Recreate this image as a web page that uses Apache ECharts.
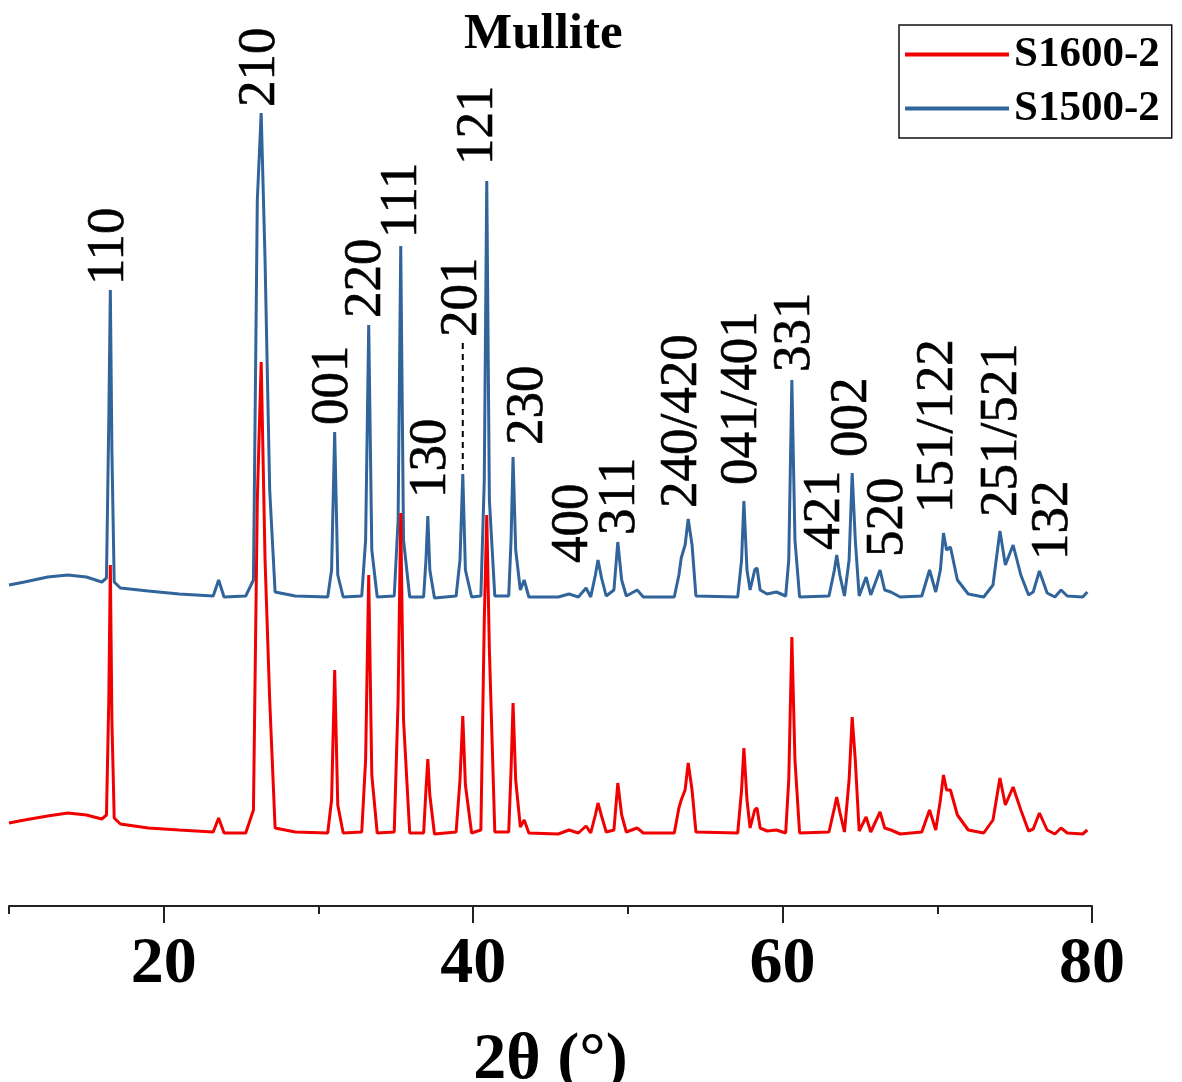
<!DOCTYPE html>
<html>
<head>
<meta charset="utf-8">
<title>Mullite XRD</title>
<script src="https://cdn.jsdelivr.net/npm/echarts@6/dist/echarts.min.js"></script>
<style>
  html, body { margin: 0; padding: 0; background: #fff; }
  #chart { width: 1182px; height: 1082px; }
</style>
</head>
<body>
<div id="chart"></div>
<script>
// 2theta (deg), shared by both patterns
var twoTheta = [
  10.0, 11.0, 12.5, 13.8, 15.0, 16.0, 16.3, 16.45, 16.55, 16.65, 16.8, 17.2, 19.0, 21.0, 23.2, 23.55, 23.9,
  25.3, 25.8, 26.05, 26.3, 26.55, 26.85, 27.2, 28.5,
  30.6, 30.85, 31.05, 31.25, 31.6,
  32.8, 33.05, 33.25, 33.45, 33.8,
  34.9, 35.15, 35.32, 35.5, 35.9,
  36.8, 36.95, 37.07, 37.2, 37.5,
  38.9, 39.15, 39.33, 39.5, 39.9,
  40.5, 40.72, 40.88, 41.05, 41.4,
  42.3, 42.45, 42.58, 42.75, 43.05, 43.3, 43.6,
  45.5, 46.2, 46.8, 47.3, 47.6, 47.9, 48.07, 48.3, 48.6,
  49.1, 49.35, 49.6, 49.9, 50.6, 51.0,
  53.0, 53.3, 53.45, 53.7, 53.9, 54.15, 54.4,
  57.1, 57.35, 57.5, 57.7, 57.9, 58.2, 58.35, 58.55, 59.0, 59.6,
  60.2, 60.4, 60.6, 60.8, 61.1,
  63.0, 63.35, 63.5, 63.7, 64.0, 64.3, 64.5, 64.7, 64.95, 65.4, 65.7, 66.3, 66.6, 67.0, 67.6,
  69.0, 69.5, 69.9, 70.2, 70.4, 70.6, 70.85, 71.3, 72.0,
  73.0, 73.6, 74.05, 74.4, 74.9, 75.4, 75.9, 76.2, 76.6, 77.1, 77.6, 78.0, 78.4, 79.4, 79.7
];

// S1500-2 intensity (a.u., already stacked above the other pattern)
var s1500 = [
  321, 324, 329, 331, 329, 324, 328, 486, 616, 456, 324, 318, 315, 312, 310, 326, 309,
  310, 326, 706, 793, 646, 416, 314, 310,
  309, 336, 474, 331, 309,
  310, 366, 581, 356, 309,
  310, 386, 660, 366, 309,
  309, 346, 390, 336, 308,
  310, 346, 432, 336, 309,
  310, 426, 725, 406, 310,
  310, 366, 449, 356, 316, 326, 309,
  309, 312, 309, 318, 309, 331, 346, 328, 310,
  316, 364, 326, 310, 316, 309,
  309, 331, 348, 361, 387, 361, 310,
  309, 346, 405, 336, 316, 336, 338, 316, 312, 314,
  310, 346, 526, 366, 309,
  310, 336, 351, 331, 310, 346, 433, 366, 310, 329, 311, 336, 316, 314, 309,
  310, 336, 314, 336, 373, 356, 359, 326, 312,
  309, 321, 375, 341, 361, 331, 311, 314, 335, 313, 309, 316, 310, 309, 314
];

// S1600-2 intensity (a.u.)
var s1600 = [
  83, 86, 90, 93, 91, 87, 91, 206, 341, 186, 88, 82, 78, 76, 74, 88, 73,
  73, 96, 406, 544, 346, 206, 78, 74,
  73, 106, 236, 101, 73,
  74, 146, 331, 131, 73,
  74, 206, 393, 186, 73,
  73, 116, 147, 111, 72,
  74, 126, 190, 121, 73,
  76, 286, 391, 256, 74,
  74, 136, 203, 126, 79, 86, 73,
  72, 76, 73, 80, 73, 91, 103, 90, 74,
  76, 123, 91, 74, 78, 73,
  73, 98, 106, 116, 143, 116, 74,
  73, 116, 158, 106, 78, 96, 98, 78, 75, 76,
  73, 126, 269, 146, 73,
  74, 98, 109, 94, 74, 126, 189, 146, 75, 89, 74, 94, 78, 76, 72,
  74, 96, 76, 106, 131, 116, 116, 91, 76,
  73, 86, 128, 101, 119, 96, 75, 77, 93, 76, 72, 78, 73, 72, 76
];

// peak indices and where their labels start
var hklNames = ['110', '210', '001', '220', '111', '130', '201', '121', '230', '400',
  '311', '240/420', '041/401', '331', '421', '002', '520', '151/122', '251/521', '132'];
var hklTheta = [16.45, 26.25, 30.95, 33.1, 35.4, 37.3, 39.3, 40.35, 43.55, 46.45,
  49.5, 53.5, 57.4, 60.8, 62.75, 64.5, 66.85, 70.05, 74.2, 77.5];
var hklHeight = [621, 799, 481, 588, 668, 408, 569, 741, 461, 343,
  371, 398, 421, 534, 356, 449, 349, 393, 389, 346];

// dashed guide under the 201 label
var guideTheta = [39.33, 39.33];
var guideHeight = [436, 566];

var majorTicks = [20, 40, 60, 80];
var minorTicks = [10, 30, 50, 70];

var serif = "'Liberation Serif', 'Times New Roman', serif";

function zip(xs, ys) {
  var out = [];
  for (var i = 0; i < xs.length; i++) out.push([xs[i], ys[i]]);
  return out;
}

var labelData = [];
for (var k = 0; k < hklNames.length; k++) {
  labelData.push({ name: hklNames[k], value: [hklTheta[k], hklHeight[k]] });
}

var dom = document.getElementById('chart');
var myChart = echarts.init(dom, null, { renderer: 'canvas' });

var option = {
  animation: false,
  title: {
    text: 'Mullite',
    left: 464,
    top: 9,
    padding: 0,
    textStyle: { fontFamily: serif, fontWeight: 'bold', fontSize: 51, color: '#000' }
  },
  legend: {
    data: ['S1600-2', 'S1500-2'],
    orient: 'vertical',
    left: 899,
    top: 25,
    padding: [8, 12, 8, 6],
    itemGap: 11,
    itemWidth: 104,
    itemHeight: 4,
    icon: 'rect',
    borderColor: '#111',
    borderWidth: 1.5,
    textStyle: { fontFamily: serif, fontWeight: 'bold', fontSize: 43, color: '#000' }
  },
  grid: { left: 9, right: 90, top: 6, bottom: 176, outerBoundsMode: 'none', containLabel: false },
  xAxis: [
    {
      type: 'value',
      min: 10,
      max: 80,
      name: '2θ (°)',
      nameLocation: 'middle',
      nameGap: 122,
      nameTextStyle: { fontFamily: serif, fontWeight: 'bold', fontSize: 66, color: '#000' },
      splitLine: { show: false },
      axisLine: { lineStyle: { color: '#222', width: 2 } },
      axisTick: { customValues: majorTicks, length: 17, lineStyle: { color: '#222', width: 2 } },
      axisLabel: {
        customValues: majorTicks,
        margin: 26,
        fontFamily: serif,
        fontWeight: 'bold',
        fontSize: 66,
        color: '#000'
      }
    },
    {
      type: 'value',
      min: 10,
      max: 80,
      position: 'bottom',
      splitLine: { show: false },
      axisLine: { show: false },
      axisTick: { customValues: minorTicks, length: 8, lineStyle: { color: '#222', width: 2 } },
      axisLabel: { show: false }
    }
  ],
  yAxis: { type: 'value', min: 0, max: 900, show: false },
  series: [
    {
      name: 'S1500-2',
      type: 'line',
      symbol: 'none',
      color: '#30649a',
      lineStyle: { width: 3, color: '#30649a' },
      data: zip(twoTheta, s1500),
      z: 2
    },
    {
      name: 'S1600-2',
      type: 'line',
      symbol: 'none',
      color: '#f00000',
      lineStyle: { width: 3, color: '#f00000' },
      data: zip(twoTheta, s1600),
      z: 3
    },
    {
      name: 'guide',
      type: 'line',
      symbol: 'none',
      silent: true,
      lineStyle: { width: 2, color: '#000', type: [6, 5] },
      data: zip(guideTheta, guideHeight),
      z: 1
    },
    {
      name: 'hkl',
      type: 'scatter',
      symbolSize: 0,
      silent: true,
      itemStyle: { opacity: 1, color: '#000' },
      data: labelData,
      label: {
        show: true,
        position: 'inside',
        rotate: 90,
        align: 'left',
        verticalAlign: 'middle',
        formatter: '{b}',
        fontFamily: serif,
        fontSize: 53,
        color: '#000',
        opacity: 1,
        textBorderColor: '#000',
        textBorderWidth: 0.6
      },
      z: 5
    }
  ]
};

myChart.setOption(option);
window.addEventListener('resize', myChart.resize);
</script>
</body>
</html>
